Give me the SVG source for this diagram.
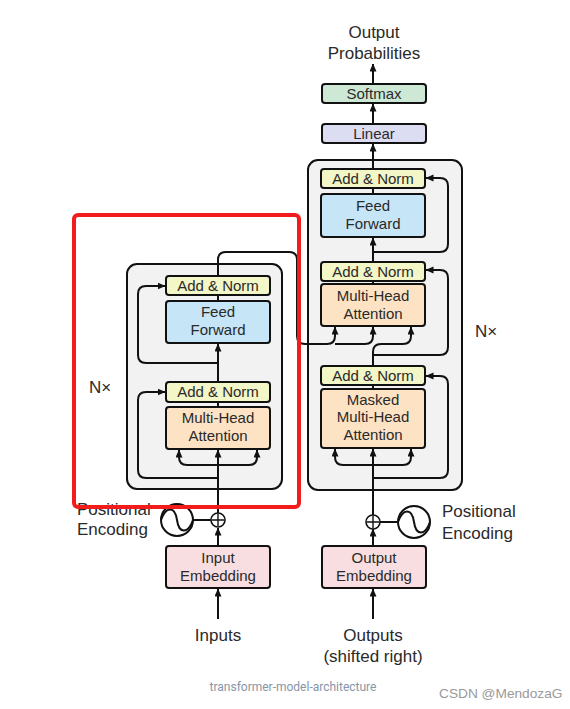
<svg xmlns="http://www.w3.org/2000/svg" width="570" height="709" viewBox="0 0 570 709">
<defs>
<marker id="ah" markerWidth="8" markerHeight="8" refX="7.5" refY="3.5" orient="auto" markerUnits="userSpaceOnUse">
<path d="M0,0 L8,3.5 L0,7 z" fill="#111"/>
</marker>
<style>
.box{stroke:#111;stroke-width:2}
.cont{fill:#f2f2f3;stroke:#111;stroke-width:2}
.an{fill:#f3f6c6}
.ff{fill:#c6e5f6}
.mha{fill:#fde2c3}
.emb{fill:#f8dee1}
.sm{fill:#cde9d6}
.lin{fill:#dcdcf2}
.t{font-family:"Liberation Sans",Arial,sans-serif;fill:#2a2a2a;text-anchor:middle}
.b{font-size:15px}
.l{font-size:17px}
.la{font-family:"Liberation Sans",Arial,sans-serif;fill:#2a2a2a;font-size:17px}
.c{fill:none;stroke:#111;stroke-width:2}
.a{marker-end:url(#ah)}
</style>
</defs>
<rect width="570" height="709" fill="#fff"/>

<g id="encoder-stack">
<rect class="cont" x="127" y="264" width="155" height="225" rx="10"/>
<text class="la" x="89" y="393" font-size="16">N×</text>
</g>
<g id="decoder-stack">
<rect class="cont" x="308" y="160" width="154" height="330" rx="10"/>
<text class="la" x="475" y="337" font-size="16">N×</text>
</g>

<g id="connectors">
<!-- encoder -->
<path class="c a" d="M218,619 V589"/>
<path class="c a" d="M218,546 V528"/>
<path class="c" d="M193,520 H211"/>
<path class="c a" d="M218,513 V450"/>
<path class="c a" d="M218,465 H187 Q179,465 179,457 V450"/>
<path class="c a" d="M218,465 H249 Q257,465 257,457 V450"/>
<path class="c a" d="M218,478 H146 Q138,478 138,470 V400 Q138,392 146,392 H165"/>
<path class="c" d="M218,407 V402"/>
<path class="c a" d="M218,382 V344"/>
<path class="c a" d="M218,363 H146 Q138,363 138,355 V294 Q138,286 146,286 H165"/>
<path class="c" d="M218,301 V295"/>
<path class="c" d="M218,276 V260 Q218,252 226,252 H289 Q297,252 297,260 V336 Q297,344 305,344 H327 Q335,344 335,336 V327"/>
<path class="c a" d="M335,336 V327"/>
<path class="c a" d="M335,344 H365 Q373,344 373,336 V327"/>
<!-- decoder -->
<path class="c a" d="M373,619 V589"/>
<path class="c a" d="M373,546 V529"/>
<path class="c" d="M380,522 H398"/>
<path class="c a" d="M373,515 V449"/>
<path class="c a" d="M373,465 H343 Q335,465 335,457 V449"/>
<path class="c a" d="M373,465 H403 Q411,465 411,457 V449"/>
<path class="c a" d="M373,478 H440 Q448,478 448,470 V384 Q448,376 440,376 H426"/>
<path class="c" d="M373,389 V385"/>
<path class="c a" d="M373,366 V352 Q373,344 381,344 H403 Q411,344 411,336 V327"/>
<path class="c a" d="M373,355 H440 Q448,355 448,347 V278 Q448,270 440,270 H426"/>
<path class="c" d="M373,284 V281"/>
<path class="c a" d="M373,262 V238"/>
<path class="c a" d="M373,252 H440 Q448,252 448,244 V186 Q448,178 440,178 H426"/>
<path class="c" d="M373,194 V188"/>
<path class="c a" d="M373,169 V144"/>
<path class="c a" d="M373,124 V104"/>
<path class="c a" d="M373,84 V64"/>
</g>

<g id="enc-addnorm2"><rect class="box an" x="166" y="276" width="104" height="19" rx="3"/><text class="t b" x="218" y="291">Add &amp; Norm</text></g>
<g id="enc-ff"><rect class="box ff" x="166" y="301" width="104" height="42" rx="3"/><text class="t b" x="218" y="317">Feed</text><text class="t b" x="218" y="335">Forward</text></g>
<g id="enc-addnorm1"><rect class="box an" x="166" y="382" width="104" height="20" rx="3"/><text class="t b" x="218" y="397">Add &amp; Norm</text></g>
<g id="enc-mha"><rect class="box mha" x="166" y="407" width="104" height="42" rx="3"/><text class="t b" x="218" y="423">Multi-Head</text><text class="t b" x="218" y="441">Attention</text></g>

<g id="dec-addnorm3"><rect class="box an" x="321" y="169" width="104" height="19" rx="3"/><text class="t b" x="373" y="184">Add &amp; Norm</text></g>
<g id="dec-ff"><rect class="box ff" x="321" y="194" width="104" height="43" rx="3"/><text class="t b" x="373" y="211">Feed</text><text class="t b" x="373" y="229">Forward</text></g>
<g id="dec-addnorm2"><rect class="box an" x="321" y="262" width="104" height="19" rx="3"/><text class="t b" x="373" y="277">Add &amp; Norm</text></g>
<g id="dec-mha"><rect class="box mha" x="321" y="284" width="104" height="42" rx="3"/><text class="t b" x="373" y="301">Multi-Head</text><text class="t b" x="373" y="319">Attention</text></g>
<g id="dec-addnorm1"><rect class="box an" x="321" y="366" width="104" height="19" rx="3"/><text class="t b" x="373" y="381">Add &amp; Norm</text></g>
<g id="dec-masked-mha"><rect class="box mha" x="321" y="389" width="104" height="59" rx="3"/><text class="t b" x="373" y="405">Masked</text><text class="t b" x="373" y="422">Multi-Head</text><text class="t b" x="373" y="440">Attention</text></g>

<g id="linear"><rect class="box lin" x="322" y="124" width="104" height="19" rx="3"/><text class="t b" x="374" y="139">Linear</text></g>
<g id="softmax"><rect class="box sm" x="322" y="84" width="104" height="19" rx="3"/><text class="t b" x="374" y="99">Softmax</text></g>
<g id="output-probabilities"><text class="t l" x="374" y="38">Output</text><text class="t l" x="374" y="59">Probabilities</text></g>

<g id="input-embedding"><rect class="box emb" x="166" y="546" width="104" height="42" rx="3"/><text class="t b" x="218" y="563">Input</text><text class="t b" x="218" y="581">Embedding</text></g>
<g id="output-embedding"><rect class="box emb" x="322" y="546" width="104" height="42" rx="3"/><text class="t b" x="374" y="563">Output</text><text class="t b" x="374" y="581">Embedding</text></g>

<g id="enc-posenc">
<circle cx="177" cy="520" r="16" fill="#fff" stroke="#111" stroke-width="2"/>
<path class="c" d="M161,520 C166,506 175,506 177,520 C179,534 188,534 193,520"/>
<text class="la" x="77" y="515">Positional</text><text class="la" x="77" y="535">Encoding</text>
</g>
<g id="enc-add"><circle cx="218" cy="520" r="7" fill="#fff" stroke="#111" stroke-width="1.6"/><path d="M212,520 H224 M218,514 V526" stroke="#111" stroke-width="1.4"/></g>
<g id="dec-posenc">
<circle cx="414" cy="522" r="16" fill="#fff" stroke="#111" stroke-width="2"/>
<path class="c" d="M398,522 C403,508 412,508 414,522 C416,536 425,536 430,522"/>
<text class="la" x="442" y="517">Positional</text><text class="la" x="442" y="539">Encoding</text>
</g>
<g id="dec-add"><circle cx="373" cy="522" r="7" fill="#fff" stroke="#111" stroke-width="1.6"/><path d="M367,522 H379 M373,516 V528" stroke="#111" stroke-width="1.4"/></g>

<g id="inputs"><text class="t l" x="218" y="641">Inputs</text></g>
<g id="outputs"><text class="t l" x="373" y="641">Outputs</text><text class="t l" x="373" y="662">(shifted right)</text></g>

<g id="highlight"><rect x="74" y="215" width="225" height="292" rx="4" fill="none" stroke="#f21c1c" stroke-width="4"/></g>

<text x="293" y="691" font-family="Roboto,'Liberation Sans',sans-serif" font-size="12" fill="#8696a8" text-anchor="middle">transformer-model-architecture</text>
<text x="439" y="698" font-family="'Liberation Sans',Arial,sans-serif" font-size="13.7" fill="#999">CSDN @MendozaG</text>
</svg>
